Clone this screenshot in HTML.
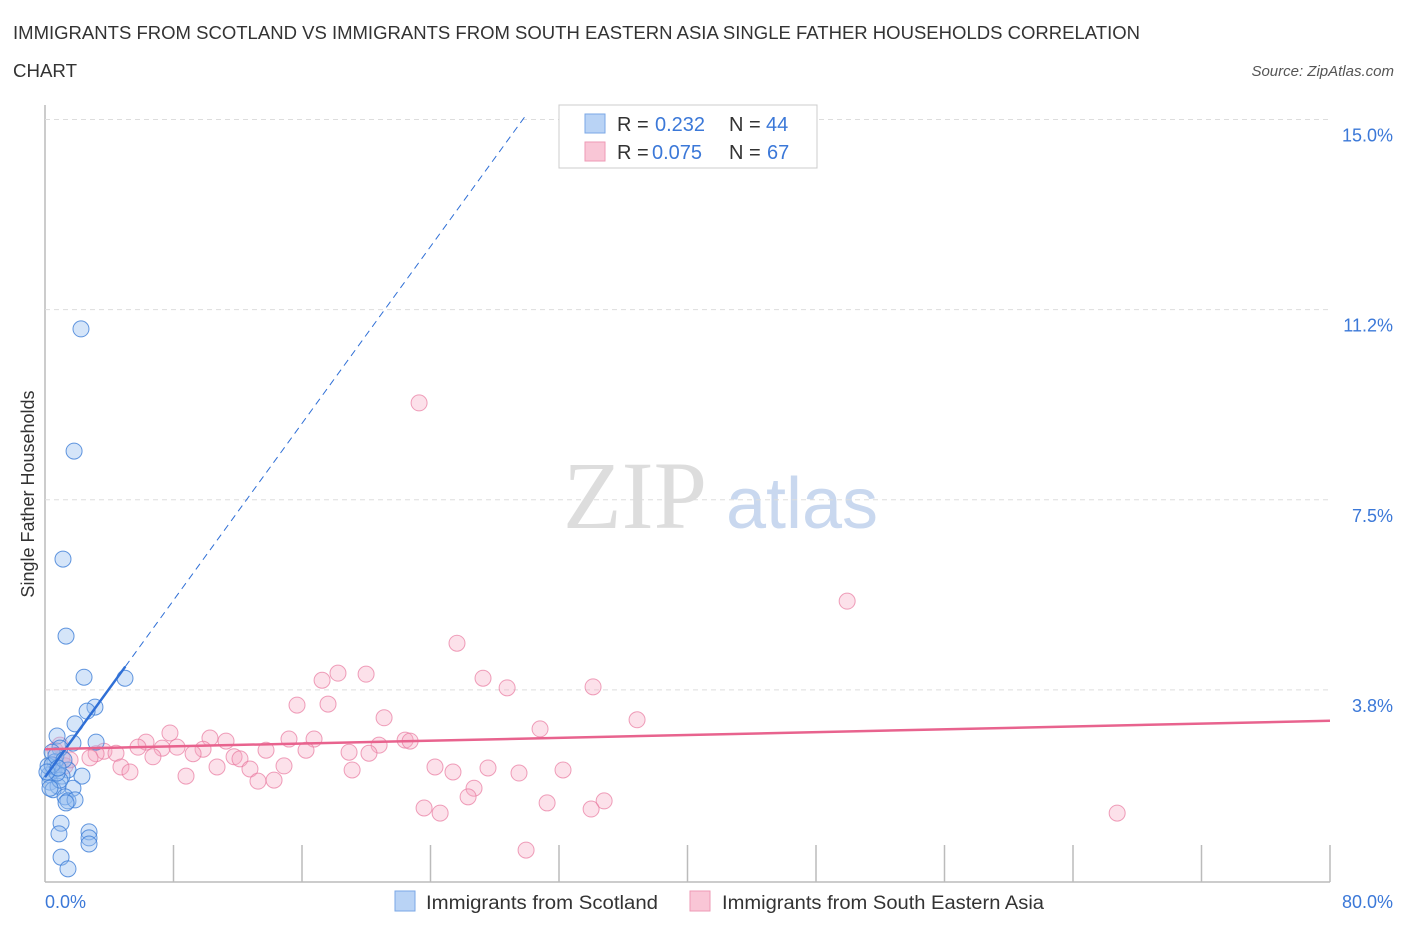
<!DOCTYPE html>
<html><head><meta charset="utf-8"><style>
body{margin:0;background:#fff;font-family:"Liberation Sans",sans-serif;}
</style></head><body>
<svg id="chart" width="1406" height="930" xmlns="http://www.w3.org/2000/svg" font-family="Liberation Sans, sans-serif">
<text x="13" y="39" font-size="18" fill="#333" textLength="1127" lengthAdjust="spacingAndGlyphs">IMMIGRANTS FROM SCOTLAND VS IMMIGRANTS FROM SOUTH EASTERN ASIA SINGLE FATHER HOUSEHOLDS CORRELATION</text>
<text x="13" y="77" font-size="18" fill="#333" textLength="64" lengthAdjust="spacingAndGlyphs">CHART</text>
<text x="1394" y="76" font-size="15" fill="#555" font-style="italic" text-anchor="end">Source: ZipAtlas.com</text>
<text transform="translate(34,494) rotate(-90)" font-size="18" fill="#333" text-anchor="middle">Single Father Households</text>
<g>
<text x="635" y="528" font-size="96" fill="#ddd" style="font-family:'Liberation Serif',serif" text-anchor="middle">ZIP</text>
<text x="802" y="528" font-size="72" fill="#c9d8ef" text-anchor="middle">atlas</text>
</g>
<g id="grid"></g>
<g id="marks"></g>
<g>
<rect x="559" y="105" width="258" height="63" fill="#fff" stroke="#ccc"/>
<rect x="585" y="114" width="20" height="19" fill="#b9d3f5" stroke="#7aa7e6"/>
<rect x="585" y="142" width="20" height="19" fill="#f9c6d6" stroke="#ee9ab5"/>
<text x="617" y="131" font-size="20" fill="#333">R =</text><text x="655" y="131" font-size="20" fill="#3b78d8">0.232</text>
<text x="729" y="131" font-size="20" fill="#333">N =</text><text x="766" y="131" font-size="20" fill="#3b78d8">44</text>
<text x="617" y="159" font-size="20" fill="#333">R =</text><text x="652" y="159" font-size="20" fill="#3b78d8">0.075</text>
<text x="729" y="159" font-size="20" fill="#333">N =</text><text x="767" y="159" font-size="20" fill="#3b78d8">67</text>
</g>
<g>
<rect x="395" y="891" width="20" height="20" fill="#b9d3f5" stroke="#7aa7e6"/>
<text x="426" y="909" font-size="19" fill="#333" textLength="232" lengthAdjust="spacingAndGlyphs">Immigrants from Scotland</text>
<rect x="690" y="891" width="20" height="20" fill="#f9c6d6" stroke="#ee9ab5"/>
<text x="722" y="909" font-size="19" fill="#333" textLength="322" lengthAdjust="spacingAndGlyphs">Immigrants from South Eastern Asia</text>
</g>
</svg>
<script>
const yTicks=[15.0,11.25,7.5,3.75];
const yTickLabels=["15.0%","11.2%","7.5%","3.8%"];
const xTickCount=10;
const scotX=[2.24,1.81,1.12,1.31,2.43,4.98,3.11,2.62,1.87,0.75,3.18,1.74,0.93,0.44,0.62,1.43,0.56,0.25,1.06,2.30,0.31,1.74,0.81,0.50,1.25,1.43,1.87,1.31,0.93,0.75,0.19,1.00,0.87,2.74,2.74,2.74,1.00,1.43,0.44,0.68,0.12,0.31,1.18,0.81];
const scotY=[10.87,8.46,6.33,4.81,4.00,3.98,3.41,3.33,3.08,2.84,2.72,2.70,2.60,2.52,2.33,2.17,2.17,2.07,2.05,2.05,1.93,1.81,1.85,1.78,1.64,1.56,1.58,1.52,1.97,2.11,2.25,1.12,0.91,0.95,0.83,0.71,0.45,0.22,2.27,2.45,2.13,1.81,2.37,2.21];
const seaX=[23.29,49.94,25.65,18.24,19.99,17.25,27.27,28.77,34.12,15.69,17.62,21.11,36.86,30.82,7.78,6.29,10.27,11.27,15.19,16.75,22.42,22.73,20.80,5.79,7.29,8.22,9.84,13.76,16.25,18.93,20.17,3.67,4.42,3.18,0.62,1.06,2.80,9.22,11.77,12.14,6.72,1.25,4.73,5.29,10.71,12.76,14.88,24.28,25.40,27.58,29.51,32.25,19.12,8.78,13.26,14.26,26.71,26.34,31.26,34.81,23.60,24.60,34.00,66.75,29.95,0.93,1.56];
const seaY=[9.41,5.50,4.67,4.08,4.06,3.94,3.98,3.79,3.81,3.45,3.47,3.20,3.16,2.98,2.90,2.72,2.80,2.74,2.78,2.78,2.76,2.74,2.66,2.62,2.60,2.62,2.58,2.56,2.56,2.52,2.50,2.54,2.50,2.49,2.56,2.41,2.41,2.49,2.43,2.39,2.43,2.25,2.23,2.13,2.23,2.19,2.25,2.23,2.13,2.21,2.11,2.17,2.17,2.05,1.95,1.97,1.81,1.64,1.52,1.56,1.42,1.32,1.40,1.32,0.59,2.66,2.37];
const scotTrend=[2.03,0.436];
const seaTrend=[2.58,0.007];
const NS="http://www.w3.org/2000/svg";
const X0=45,X1=1330,YB=880;
function sx(v){return X0+v*(X1-X0)/80;}
function sy(v){return YB-v*50.7;}
function mk(t,a,p){const e=document.createElementNS(NS,t);for(const k in a)e.setAttribute(k,a[k]);p.appendChild(e);return e;}
const grid=document.getElementById('grid'),marks=document.getElementById('marks');
mk('line',{x1:45,y1:105,x2:45,y2:882,stroke:'#bbb','stroke-width':1.5},grid);
mk('line',{x1:45,y1:882,x2:1330,y2:882,stroke:'#bbb','stroke-width':1.5},grid);
yTicks.forEach((v,i)=>{
 const g=mk('line',{x1:45,y1:sy(v),x2:1330,y2:sy(v),stroke:'#ddd','stroke-dasharray':'5,4'},grid);
 
 
 const t=mk('text',{x:1393,y:sy(v)+22,'font-size':18,fill:'#3b78d8','text-anchor':'end'},grid);
 t.textContent=yTickLabels[i];
 
 
});
for(let i=1;i<=xTickCount;i++){
 const x=sx(i*80/xTickCount);
 const l=mk('line',{x1:x,y1:845,x2:x,y2:882,stroke:'#bbb','stroke-width':1.5},grid);
 
 
}
const xl=mk('text',{x:45,y:908,'font-size':18,fill:'#3b78d8'},grid);xl.textContent='0.0%';


const xr=mk('text',{x:1393,y:908,'font-size':18,fill:'#3b78d8','text-anchor':'end'},grid);xr.textContent='80.0%';


seaX.forEach((v,i)=>{
 const c=mk('circle',{cx:sx(v),cy:sy(seaY[i]),r:8,fill:'rgba(246,170,195,0.35)',stroke:'rgba(232,120,158,0.7)','stroke-width':1},marks);
 
 
});
scotX.forEach((v,i)=>{
 const c=mk('circle',{cx:sx(v),cy:sy(scotY[i]),r:8,fill:'rgba(150,190,240,0.4)',stroke:'rgba(60,125,215,0.8)','stroke-width':1},marks);
 
 
});
const xEnd=(15.05-scotTrend[0])/scotTrend[1];
const l1=mk('line',{x1:sx(0),y1:sy(scotTrend[0]),x2:sx(5),y2:sy(scotTrend[0]+5*scotTrend[1]),stroke:'#2f6fd6','stroke-width':2.5},marks);


const l2=mk('line',{x1:sx(5),y1:sy(scotTrend[0]+5*scotTrend[1]),x2:sx(xEnd),y2:sy(15.05),stroke:'#2f6fd6','stroke-width':1,'stroke-dasharray':'7,5'},marks);


const l3=mk('line',{x1:sx(0),y1:sy(seaTrend[0]),x2:sx(80),y2:sy(seaTrend[0]+80*seaTrend[1]),stroke:'#e8638e','stroke-width':2.5},marks);


</script>
</body></html>
